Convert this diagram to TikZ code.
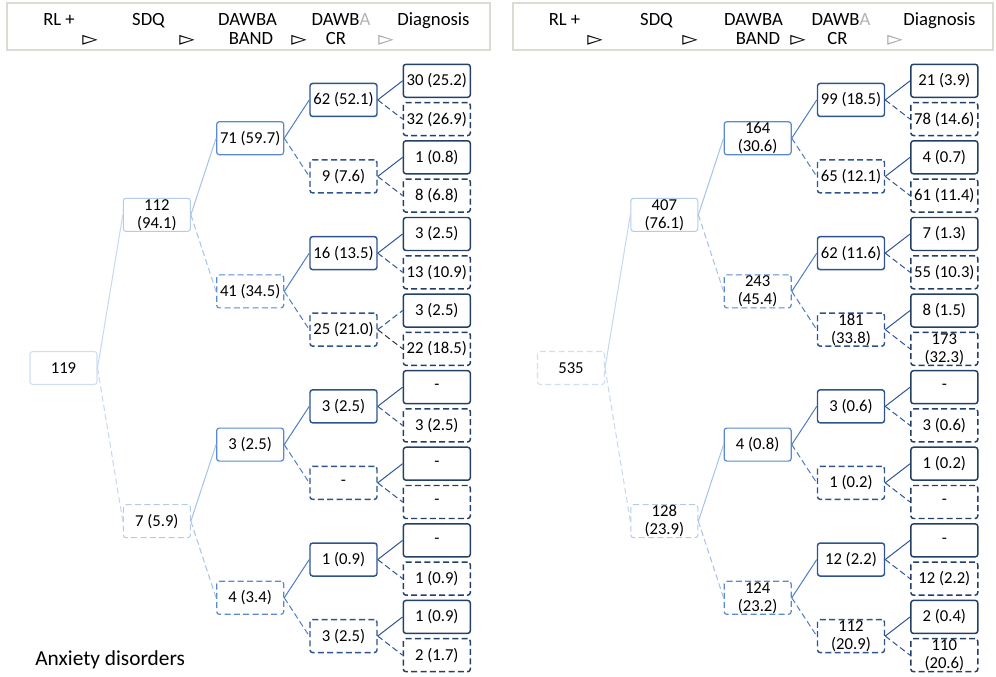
\documentclass[tikz,border=0pt]{standalone}
\usepackage{fontspec}
\setmainfont{Carlito}
\newfontfamily\trifont{DejaVu Sans}

\definecolor{headc}{HTML}{D9DCD2}
\definecolor{rootc}{HTML}{D0DEF1}
\definecolor{sdqc}{HTML}{B6CBEA}
\definecolor{bandc}{HTML}{5A89D0}
\definecolor{crc}{HTML}{2E5490}
\definecolor{diagc}{HTML}{243F66}
\definecolor{linkac}{HTML}{C6D7EF}
\definecolor{linkbc}{HTML}{A6C2EA}
\definecolor{linkcc}{HTML}{4D7DC4}
\definecolor{linkdc}{HTML}{2F5597}

\begin{document}
\begin{tikzpicture}[x=0.75pt, y=-0.75pt, node distance=70pt,  % drzewa decyzyjne
        box/.style={rectangle, draw, fill=white, rounded corners=2pt, minimum width=50.25pt, minimum height=24.75pt, inner xsep=0pt, inner ysep=-1pt, align=center, font=\fontsize{12.5}{13.5}\selectfont},
        rootbox/.style={box, draw=rootc, line width=0.8pt},
        sdqbox/.style={box, draw=sdqc, line width=0.8pt},
        bandbox/.style={box, draw=bandc, line width=0.9pt},
        crbox/.style={box, draw=crc, line width=1.1pt},
        diagbox/.style={box, draw=diagc, line width=1.1pt},
        neg/.style={dash pattern=on 4.5pt off 2.5pt},
        link1/.style={draw=linkac, line width=0.75pt},
        link2/.style={draw=linkbc, line width=0.75pt},
        link3/.style={draw=linkcc, line width=0.75pt},
        link4/.style={draw=linkdc, line width=0.75pt},
        head/.style={anchor=base, inner sep=0pt, font=\fontsize{14}{16}\selectfont},
        tri/.style={anchor=base, inner sep=0pt, font=\trifont\fontsize{15}{16}\selectfont}]
                \useasboundingbox (0,0) rectangle (996,677);

                % Nagłówki
                \draw[headc, line width=0.9pt] (7,3) rectangle (490,50);
                \node (head1) [head] at (59,26) {RL +};
                \node (head2) [head] at (148.5,26) {SDQ};
                \node (head3) [head] at (247.5,26) {DAWBA};
                \node (head4) [head] at (251,45) {BAND};
                \node (head5) [head] at (341,26) {DAWB\textcolor{gray!60}{A}};
                \node (head6) [head] at (336,45) {CR};
                \node (head7) [head] at (433.5,26) {Diagnosis};
                \node (tri1) [tri] at (90,46) {▻};
                \node (tri2) [tri] at (187,46) {▻};
                \node (tri3) [tri] at (299,46) {▻};
                \node (tri4) [tri, gray!70] at (386,46) {▻};

                \draw[headc, line width=0.9pt] (513,3) rectangle (993,50);
                \node (head8) [head] at (564.5,26) {RL +};
                \node (head9) [head] at (656.5,26) {SDQ};
                \node (head10) [head] at (753.5,26) {DAWBA};
                \node (head11) [head] at (758,45) {BAND};
                \node (head12) [head] at (841,26) {DAWB\textcolor{gray!60}{A}};
                \node (head13) [head] at (837.5,45) {CR};
                \node (head14) [head] at (939.5,26) {Diagnosis};
                \node (tri5) [tri] at (595,46) {▻};
                \node (tri6) [tri] at (690,46) {▻};
                \node (tri7) [tri] at (798,46) {▻};
                \node (tri8) [tri, gray!70] at (895,46) {▻};

                % Lewe drzewo
                \node (rl1) [rootbox] at (63.5,368) {119};
                \node (sdq1) [sdqbox, right of=rl1, yshift=114.9pt] {112\\(94.1)};
                \node (sdq2) [sdqbox, neg, right of=rl1, yshift=-114.9pt] {7 (5.9)};
                \node (band1) [bandbox, right of=sdq1, yshift=57.45pt] {71 (59.7)};
                \node (band2) [bandbox, neg, right of=sdq1, yshift=-57.45pt] {41 (34.5)};
                \node (band3) [bandbox, right of=sdq2, yshift=57.45pt] {3 (2.5)};
                \node (band4) [bandbox, neg, right of=sdq2, yshift=-57.45pt] {4 (3.4)};
                \node (cr1) [crbox, right of=band1, yshift=28.7pt] {62 (52.1)};
                \node (cr2) [crbox, neg, right of=band1, yshift=-28.7pt] {9 (7.6)};
                \node (cr3) [crbox, right of=band2, yshift=28.7pt] {16 (13.5)};
                \node (cr4) [crbox, neg, right of=band2, yshift=-28.7pt] {25 (21.0)};
                \node (cr5) [crbox, right of=band3, yshift=28.7pt] {3 (2.5)};
                \node (cr6) [crbox, neg, right of=band3, yshift=-28.7pt] {-};
                \node (cr7) [crbox, right of=band4, yshift=28.7pt] {1 (0.9)};
                \node (cr8) [crbox, neg, right of=band4, yshift=-28.7pt] {3 (2.5)};
                \node (diag1) [diagbox, right of=cr1, yshift=14.36pt] {30 (25.2)};
                \node (diag2) [diagbox, neg, right of=cr1, yshift=-14.36pt] {32 (26.9)};
                \node (diag3) [diagbox, right of=cr2, yshift=14.36pt] {1 (0.8)};
                \node (diag4) [diagbox, neg, right of=cr2, yshift=-14.36pt] {8 (6.8)};
                \node (diag5) [diagbox, right of=cr3, yshift=14.36pt] {3 (2.5)};
                \node (diag6) [diagbox, neg, right of=cr3, yshift=-14.36pt] {13 (10.9)};
                \node (diag7) [diagbox, right of=cr4, yshift=14.36pt] {3 (2.5)};
                \node (diag8) [diagbox, neg, right of=cr4, yshift=-14.36pt] {22 (18.5)};
                \node (diag9) [diagbox, right of=cr5, yshift=14.36pt] {-};
                \node (diag10) [diagbox, neg, right of=cr5, yshift=-14.36pt] {3 (2.5)};
                \node (diag11) [diagbox, right of=cr6, yshift=14.36pt] {-};
                \node (diag12) [diagbox, neg, right of=cr6, yshift=-14.36pt] {-};
                \node (diag13) [diagbox, right of=cr7, yshift=14.36pt] {-};
                \node (diag14) [diagbox, neg, right of=cr7, yshift=-14.36pt] {1 (0.9)};
                \node (diag15) [diagbox, right of=cr8, yshift=14.36pt] {1 (0.9)};
                \node (diag16) [diagbox, neg, right of=cr8, yshift=-14.36pt] {2 (1.7)};
                \node (title) [anchor=base west, inner sep=0pt, font=\fontsize{16}{18}\selectfont] at (35,665) {Anxiety disorders};

                % Prawe drzewo
                \node (rl2) [rootbox, neg] at (571,368) {535};
                \node (sdq3) [sdqbox, right of=rl2, yshift=114.9pt] {407\\(76.1)};
                \node (sdq4) [sdqbox, neg, right of=rl2, yshift=-114.9pt] {128\\(23.9)};
                \node (band5) [bandbox, right of=sdq3, yshift=57.45pt] {164\\(30.6)};
                \node (band6) [bandbox, neg, right of=sdq3, yshift=-57.45pt] {243\\(45.4)};
                \node (band7) [bandbox, right of=sdq4, yshift=57.45pt] {4 (0.8)};
                \node (band8) [bandbox, neg, right of=sdq4, yshift=-57.45pt] {124\\(23.2)};
                \node (cr9) [crbox, right of=band5, yshift=28.7pt] {99 (18.5)};
                \node (cr10) [crbox, neg, right of=band5, yshift=-28.7pt] {65 (12.1)};
                \node (cr11) [crbox, right of=band6, yshift=28.7pt] {62 (11.6)};
                \node (cr12) [crbox, neg, right of=band6, yshift=-28.7pt] {181\\(33.8)};
                \node (cr13) [crbox, right of=band7, yshift=28.7pt] {3 (0.6)};
                \node (cr14) [crbox, neg, right of=band7, yshift=-28.7pt] {1 (0.2)};
                \node (cr15) [crbox, right of=band8, yshift=28.7pt] {12 (2.2)};
                \node (cr16) [crbox, neg, right of=band8, yshift=-28.7pt] {112\\(20.9)};
                \node (diag17) [diagbox, right of=cr9, yshift=14.36pt] {21 (3.9)};
                \node (diag18) [diagbox, neg, right of=cr9, yshift=-14.36pt] {78 (14.6)};
                \node (diag19) [diagbox, right of=cr10, yshift=14.36pt] {4 (0.7)};
                \node (diag20) [diagbox, neg, right of=cr10, yshift=-14.36pt] {61 (11.4)};
                \node (diag21) [diagbox, right of=cr11, yshift=14.36pt] {7 (1.3)};
                \node (diag22) [diagbox, neg, right of=cr11, yshift=-14.36pt] {55 (10.3)};
                \node (diag23) [diagbox, right of=cr12, yshift=14.36pt] {8 (1.5)};
                \node (diag24) [diagbox, neg, right of=cr12, yshift=-14.36pt] {173\\(32.3)};
                \node (diag25) [diagbox, right of=cr13, yshift=14.36pt] {-};
                \node (diag26) [diagbox, neg, right of=cr13, yshift=-14.36pt] {3 (0.6)};
                \node (diag27) [diagbox, right of=cr14, yshift=14.36pt] {1 (0.2)};
                \node (diag28) [diagbox, neg, right of=cr14, yshift=-14.36pt] {-};
                \node (diag29) [diagbox, right of=cr15, yshift=14.36pt] {-};
                \node (diag30) [diagbox, neg, right of=cr15, yshift=-14.36pt] {12 (2.2)};
                \node (diag31) [diagbox, right of=cr16, yshift=14.36pt] {2 (0.4)};
                \node (diag32) [diagbox, neg, right of=cr16, yshift=-14.36pt] {110\\(20.6)};

                % Linie - lewe drzewo
                \draw[link1] (rl1.east) -- (sdq1.west);
                \draw[link1, neg] (rl1.east) -- (sdq2.west);
                \draw[link2] (sdq1.east) -- (band1.west);
                \draw[link2, neg] (sdq1.east) -- (band2.west);
                \draw[link2] (sdq2.east) -- (band3.west);
                \draw[link2, neg] (sdq2.east) -- (band4.west);
                \draw[link3] (band1.east) -- (cr1.west);
                \draw[link3, neg] (band1.east) -- (cr2.west);
                \draw[link3] (band2.east) -- (cr3.west);
                \draw[link3, neg] (band2.east) -- (cr4.west);
                \draw[link3] (band3.east) -- (cr5.west);
                \draw[link3, neg] (band3.east) -- (cr6.west);
                \draw[link3] (band4.east) -- (cr7.west);
                \draw[link3, neg] (band4.east) -- (cr8.west);
                \draw[link4] (cr1.east) -- (diag1.west);
                \draw[link4, neg] (cr1.east) -- (diag2.west);
                \draw[link4] (cr2.east) -- (diag3.west);
                \draw[link4, neg] (cr2.east) -- (diag4.west);
                \draw[link4] (cr3.east) -- (diag5.west);
                \draw[link4, neg] (cr3.east) -- (diag6.west);
                \draw[link4, neg] (cr4.east) -- (diag7.west);
                \draw[link4, neg, draw=black!80] (cr4.east) -- (diag8.west);
                \draw[link4] (cr5.east) -- (diag9.west);
                \draw[link4, neg] (cr5.east) -- (diag10.west);
                \draw[link4] (cr6.east) -- (diag11.west);
                \draw[link4, neg] (cr6.east) -- (diag12.west);
                \draw[link4] (cr7.east) -- (diag13.west);
                \draw[link4, neg] (cr7.east) -- (diag14.west);
                \draw[link4] (cr8.east) -- (diag15.west);
                \draw[link4, neg] (cr8.east) -- (diag16.west);

                % Linie - prawe drzewo
                \draw[link1] (rl2.east) -- (sdq3.west);
                \draw[link1, neg] (rl2.east) -- (sdq4.west);
                \draw[link2] (sdq3.east) -- (band5.west);
                \draw[link2, neg] (sdq3.east) -- (band6.west);
                \draw[link2] (sdq4.east) -- (band7.west);
                \draw[link2, neg] (sdq4.east) -- (band8.west);
                \draw[link3] (band5.east) -- (cr9.west);
                \draw[link3, neg] (band5.east) -- (cr10.west);
                \draw[link3] (band6.east) -- (cr11.west);
                \draw[link3, neg] (band6.east) -- (cr12.west);
                \draw[link3] (band7.east) -- (cr13.west);
                \draw[link3, neg] (band7.east) -- (cr14.west);
                \draw[link3] (band8.east) -- (cr15.west);
                \draw[link3, neg] (band8.east) -- (cr16.west);
                \draw[link4] (cr9.east) -- (diag17.west);
                \draw[link4, neg] (cr9.east) -- (diag18.west);
                \draw[link4] (cr10.east) -- (diag19.west);
                \draw[link4, neg] (cr10.east) -- (diag20.west);
                \draw[link4] (cr11.east) -- (diag21.west);
                \draw[link4, neg] (cr11.east) -- (diag22.west);
                \draw[link4] (cr12.east) -- (diag23.west);
                \draw[link4, neg] (cr12.east) -- (diag24.west);
                \draw[link4] (cr13.east) -- (diag25.west);
                \draw[link4, neg] (cr13.east) -- (diag26.west);
                \draw[link4] (cr14.east) -- (diag27.west);
                \draw[link4, neg] (cr14.east) -- (diag28.west);
                \draw[link4] (cr15.east) -- (diag29.west);
                \draw[link4, neg] (cr15.east) -- (diag30.west);
                \draw[link4] (cr16.east) -- (diag31.west);
                \draw[link4, neg] (cr16.east) -- (diag32.west);
\end{tikzpicture}
\end{document}
